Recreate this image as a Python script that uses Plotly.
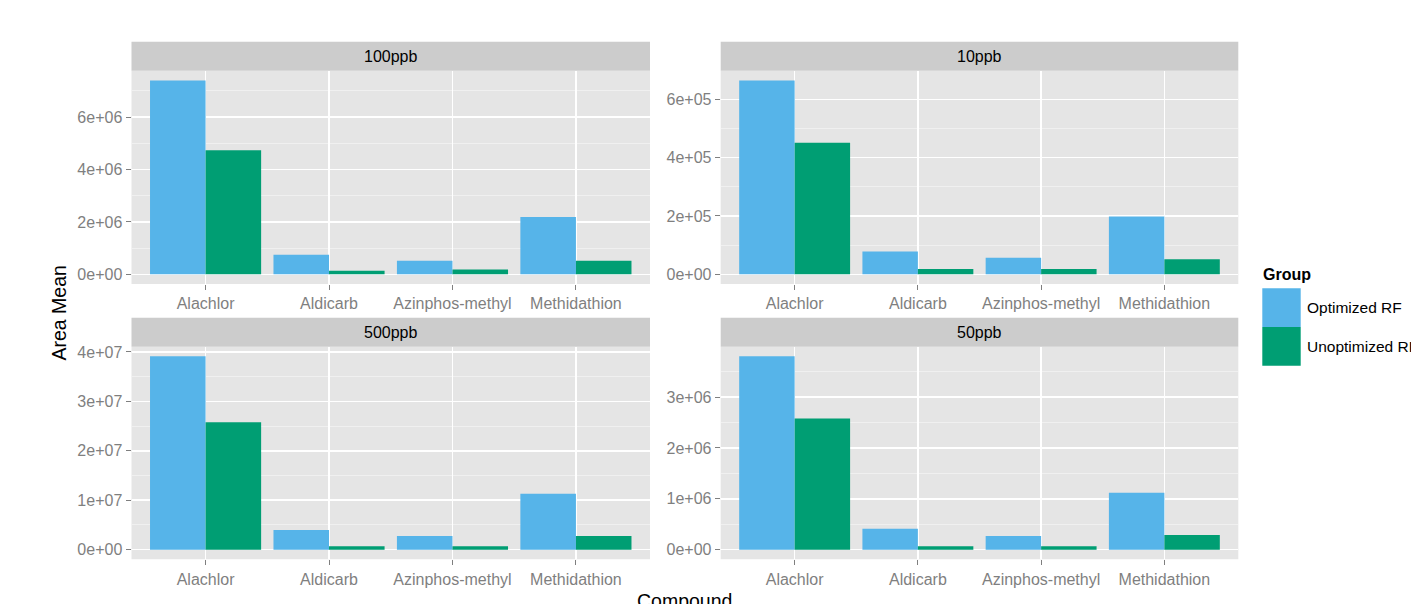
import plotly.graph_objects as go

W, H = 1411, 604

compounds = ["Alachlor", "Aldicarb", "Azinphos-methyl", "Methidathion"]
groups = ["Optimized RF", "Unoptimized RF"]
panels = ["100ppb", "10ppb", "500ppb", "50ppb"]

opt_100 = [7.40e6, 0.75e6, 0.52e6, 2.19e6]
unopt_100 = [4.73e6, 0.14e6, 0.18e6, 0.52e6]
opt_10 = [6.65e5, 0.78e5, 0.565e5, 1.98e5]
unopt_10 = [4.51e5, 0.18e5, 0.18e5, 0.52e5]
opt_500 = [3.91e7, 0.395e7, 0.274e7, 1.13e7]
unopt_500 = [2.575e7, 0.067e7, 0.067e7, 0.274e7]
opt_50 = [3.80e6, 0.41e6, 0.266e6, 1.12e6]
unopt_50 = [2.58e6, 0.065e6, 0.065e6, 0.29e6]

ticks_100 = [0, 2e6, 4e6, 6e6]
ticktext_100 = ["0e+00", "2e+06", "4e+06", "6e+06"]
ticks_10 = [0, 2e5, 4e5, 6e5]
ticktext_10 = ["0e+00", "2e+05", "4e+05", "6e+05"]
ticks_500 = [0, 1e7, 2e7, 3e7, 4e7]
ticktext_500 = ["0e+00", "1e+07", "2e+07", "3e+07", "4e+07"]
ticks_50 = [0, 1e6, 2e6, 3e6]
ticktext_50 = ["0e+00", "1e+06", "2e+06", "3e+06"]

colors = ["#56B4E9", "#009E73"]

panel_data = [
    (opt_100, unopt_100, ticks_100, ticktext_100),
    (opt_10, unopt_10, ticks_10, ticktext_10),
    (opt_500, unopt_500, ticks_500, ticktext_500),
    (opt_50, unopt_50, ticks_50, ticktext_50),
]

# layout geometry in pixels
col_x = [(131.5, 650.0), (720.7, 1238.3)]
row_y = [(70.7, 284.0), (346.7, 559.3)]
strip_h = 29.0

def px(x):
    return x / W

def py(y):
    return 1 - y / H

FONT = "Liberation Sans, Arial, sans-serif"
GREY50 = "#7F7F7F"

fig = go.Figure()
shapes = []
annotations = []

for i, (opt, unopt, tv, tt) in enumerate(panel_data):
    r, c = divmod(i, 2)
    n = i + 1
    xa = "x" if n == 1 else f"x{n}"
    ya = "y" if n == 1 else f"y{n}"
    for g, vals, col in zip(groups, [opt, unopt], colors):
        fig.add_trace(go.Bar(
            x=compounds, y=vals, name=g, marker=dict(color=col, line=dict(width=0)),
            xaxis=xa, yaxis=ya, showlegend=False, offsetgroup=g,
        ))
    vmax = max(max(opt), max(unopt))
    vmin = min(0, min(opt), min(unopt))
    rng = vmax - vmin
    yr = [vmin - 0.05 * rng, vmax + 0.05 * rng]
    step = tv[1] - tv[0]
    minor_vals = [t + step / 2 for t in tv] + [tv[0] - step / 2]
    x0, x1 = col_x[c]
    y0, y1 = row_y[r]
    xkey = "xaxis" if n == 1 else f"xaxis{n}"
    ykey = "yaxis" if n == 1 else f"yaxis{n}"
    fig.update_layout(**{
        xkey: dict(
            domain=[px(x0), px(x1)], anchor=ya, type="category",
            categoryorder="array", categoryarray=compounds,
            range=[-0.6, len(compounds) - 1 + 0.6],
            showgrid=True, gridcolor="white", gridwidth=1.5,
            ticks="outside", ticklen=5, tickwidth=1, tickcolor=GREY50,
            tickfont=dict(family=FONT, size=16, color=GREY50),
            showline=False, zeroline=False, fixedrange=True,
        ),
        ykey: dict(
            domain=[py(y1), py(y0)], anchor=xa, range=yr,
            tickmode="array", tickvals=tv, ticktext=tt,
            showgrid=True, gridcolor="white", gridwidth=1.5,
            minor=dict(tickmode="array", tickvals=minor_vals, showgrid=True,
                       gridcolor="#F2F2F2", gridwidth=0.8, ticks=""),
            ticks="outside", ticklen=5, tickwidth=1, tickcolor=GREY50,
            tickfont=dict(family=FONT, size=16, color=GREY50),
            showline=False, zeroline=False, fixedrange=True,
        ),
    })
    # panel background
    shapes.append(dict(type="rect", xref="paper", yref="paper",
                       x0=px(x0), x1=px(x1), y0=py(y1), y1=py(y0),
                       fillcolor="#E5E5E5", line=dict(width=0), layer="below"))
    # strip
    shapes.append(dict(type="rect", xref="paper", yref="paper",
                       x0=px(x0), x1=px(x1), y0=py(y0), y1=py(y0 - strip_h),
                       fillcolor="#CCCCCC", line=dict(width=0), layer="below"))
    annotations.append(dict(text=panels[i], xref="paper", yref="paper",
                            x=px((x0 + x1) / 2), y=py(y0 - strip_h / 2),
                            xanchor="center", yanchor="middle", showarrow=False,
                            font=dict(family=FONT, size=16, color="black")))

# axis titles
annotations.append(dict(text="Compound", xref="paper", yref="paper",
                        x=px((col_x[0][0] + col_x[1][1]) / 2), y=py(588),
                        xanchor="center", yanchor="top", showarrow=False,
                        font=dict(family=FONT, size=19.5, color="black")))
annotations.append(dict(text="Area Mean", xref="paper", yref="paper",
                        x=px(58), y=py(313.5), textangle=-90,
                        xanchor="center", yanchor="middle", showarrow=False,
                        font=dict(family=FONT, size=19.5, color="black")))

# legend (drawn manually)
annotations.append(dict(text="<b>Group</b>", xref="paper", yref="paper",
                        x=px(1261), y=py(274.5), xanchor="left", yanchor="middle",
                        showarrow=False, font=dict(family=FONT, size=16, color="black")))
key_x0, key_x1 = 1262.3, 1300.7
key_top, key_h = 288.3, 38.7
for k, (g, col) in enumerate(zip(groups, colors)):
    t = key_top + k * key_h
    shapes.append(dict(type="rect", xref="paper", yref="paper",
                       x0=px(key_x0), x1=px(key_x1), y0=py(t + key_h), y1=py(t),
                       fillcolor=col, line=dict(width=0)))
    annotations.append(dict(text=g, xref="paper", yref="paper",
                            x=px(1305), y=py(t + key_h / 2), xanchor="left", yanchor="middle",
                            showarrow=False, font=dict(family=FONT, size=15.5, color="black")))

fig.update_layout(
    width=W, height=H, margin=dict(l=0, r=0, t=0, b=0),
    paper_bgcolor="white", plot_bgcolor="rgba(0,0,0,0)",
    barmode="group", bargap=0.1, bargroupgap=0,
    shapes=shapes, annotations=annotations, showlegend=False,
    template="none",
)

fig.write_html(
    "out.html",
    config={"displayModeBar": False, "staticPlot": True},
    post_script="document.body.style.margin='0';document.body.style.overflow='hidden';",
)
